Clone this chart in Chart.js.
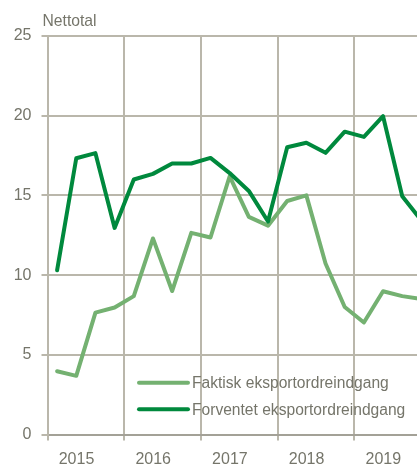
<!DOCTYPE html>
<html>
<head>
<meta charset="utf-8">
<script src="https://cdn.jsdelivr.net/npm/chart.js@4.4.0/dist/chart.umd.min.js"></script>
<style>
  html, body { margin: 0; padding: 0; background: #fff; overflow: hidden; }
  #wrap { position: absolute; left: 0; top: 0; width: 440px; height: 467px; }
</style>
</head>
<body>
<div id="wrap"><canvas id="chart" width="440" height="467"></canvas></div>
<script>
// quarterly data, 2015K1 - 2019K4
const quarters = [
  '2015K1', '2015K2', '2015K3', '2015K4',
  '2016K1', '2016K2', '2016K3', '2016K4',
  '2017K1', '2017K2', '2017K3', '2017K4',
  '2018K1', '2018K2', '2018K3', '2018K4',
  '2019K1', '2019K2', '2019K3', '2019K4'
];
const faktisk = [3.97, 3.68, 7.65, 7.97, 8.68, 12.3, 9.0, 12.65, 12.36, 16.2, 13.65, 13.1, 14.65, 15.0, 10.73, 8.0, 7.03, 8.99, 8.68, 8.5];
const forventet = [10.3, 17.33, 17.65, 12.96, 16.0, 16.35, 17.0, 17.0, 17.35, 16.4, 15.28, 13.36, 18.02, 18.3, 17.67, 19.0, 18.67, 19.97, 14.95, 13.42];
const yearTicks = [2015, 2016, 2017, 2018, 2019];
const yTicks = [0, 5, 10, 15, 20, 25];
const yTitle = 'Nettotal';

const lightGreen = '#74B171';
const darkGreen = '#00893D';
const gridColor = '#BAB7AB';
const textColor = '#75756A';
const font = '"Liberation Sans", Arial, sans-serif';

// a quarter sits in the middle of its slot within the year
function quarterX(label) {
  const year = parseInt(label.slice(0, 4), 10);
  const q = parseInt(label.slice(5), 10);
  return year + (q - 0.5) / 4;
}

function toPoints(values) {
  return values.map((v, i) => ({ x: quarterX(quarters[i]), y: v }));
}

const overlay = {
  id: 'overlay',
  afterDatasetsDraw(chart) {
    const { ctx, chartArea } = chart;
    ctx.save();
    ctx.font = '15.7px ' + font;
    ctx.fillStyle = textColor;
    ctx.textBaseline = 'alphabetic';
    ctx.textAlign = 'left';
    ctx.fillText(yTitle, chartArea.left - 5, chartArea.top - 10);

    // legend inside plot area
    const lx = chartArea.left + 91.5;
    let ly = chartArea.top + 346.7;
    ctx.font = '15.6px ' + font;
    chart.data.datasets.forEach(ds => {
      ctx.strokeStyle = ds.borderColor;
      ctx.lineWidth = 4;
      ctx.lineCap = 'round';
      ctx.beginPath();
      ctx.moveTo(lx, ly);
      ctx.lineTo(lx + 49, ly);
      ctx.stroke();
      ctx.textBaseline = 'middle';
      ctx.fillText(ds.label, lx + 53, ly + 1);
      ly += 26.6;
    });
    ctx.restore();
  }
};

const chart = new Chart(document.getElementById('chart'), {
  type: 'line',
  data: {
    datasets: [{
      label: 'Faktisk eksportordreindgang',
      data: toPoints(faktisk),
      borderColor: lightGreen,
      order: 2
    }, {
      label: 'Forventet eksportordreindgang',
      data: toPoints(forventet),
      borderColor: darkGreen,
      order: 1
    }]
  },
  options: {
    responsive: false,
    animation: false,
    devicePixelRatio: 1,
    layout: { padding: { top: 36, right: 9, left: 0, bottom: 0 } },
    elements: {
      line: { borderWidth: 4, tension: 0, borderJoinStyle: 'round', borderCapStyle: 'round' },
      point: { radius: 0 }
    },
    plugins: {
      legend: { display: false },
      tooltip: { enabled: false }
    },
    scales: {
      x: {
        type: 'linear',
        min: 2015,
        max: 2020,
        afterBuildTicks: scale => {
          scale.ticks = yearTicks.concat([2020]).map(v => ({ value: v }));
        },
        afterFit: scale => { scale.height = 32.5; },
        ticks: {
          autoSkip: false,
          maxRotation: 0,
          labelOffset: 29,
          padding: 9,
          color: textColor,
          font: { size: 16, family: font },
          callback: v => yearTicks.includes(v) ? String(v) : ''
        },
        grid: { color: gridColor, lineWidth: 2, tickLength: 6, drawTicks: true },
        border: { color: '#A3A197', width: 2 }
      },
      y: {
        min: 0,
        max: 25,
        afterBuildTicks: scale => {
          scale.ticks = yTicks.map(v => ({ value: v }));
        },
        afterFit: scale => { scale.width = 47.5; },
        ticks: {
          padding: 10,
          color: textColor,
          font: { size: 16, family: font }
        },
        grid: { color: gridColor, lineWidth: 2, tickLength: 6, drawTicks: true },
        border: { color: gridColor, width: 2 }
      }
    }
  },
  plugins: [overlay]
});
</script>
</body>
</html>
